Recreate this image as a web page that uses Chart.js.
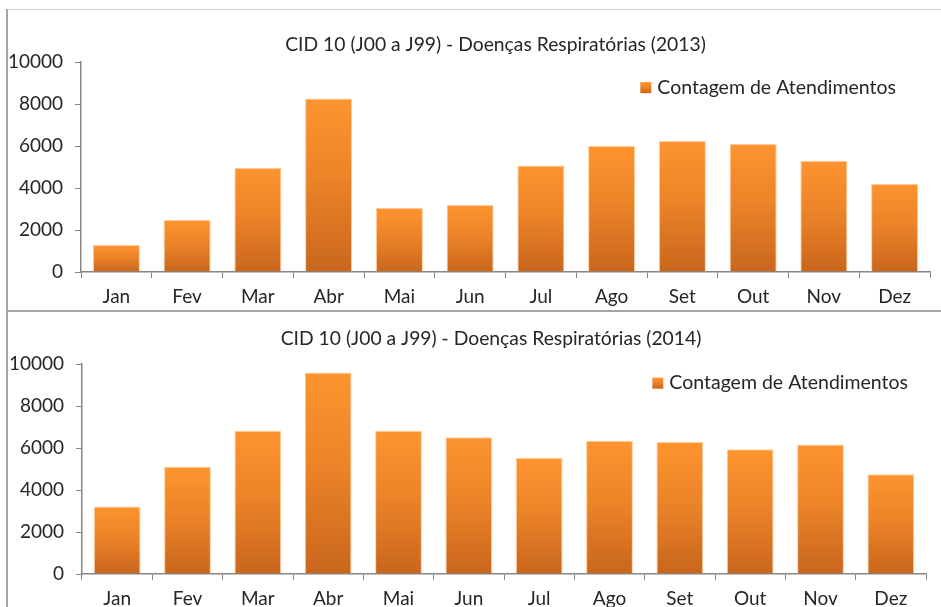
<!DOCTYPE html>
<html>
<head>
<meta charset="utf-8">
<script src="https://cdn.jsdelivr.net/npm/chart.js@4"></script>
<style>
  body { margin: 0; background: #fff; width: 941px; height: 607px; overflow: hidden; position: relative; }
  .painel { position: absolute; left: 8px; height: 300px; }
  .painel canvas { display: block; }
  .linha { position: absolute; background: #a6a6a6; }
</style>
</head>
<body>
<div class="painel" style="top:10px; width:975px"><canvas id="grafico2013" width="975" height="300"></canvas></div>
<div class="painel" style="top:312px; width:966px; height:295px; overflow:hidden"><canvas id="grafico2014" width="966" height="300"></canvas></div>
<div class="linha" style="left:6px; top:9px; width:935px; height:1px; background:#cfcfcf"></div>
<div class="linha" style="left:6px; top:9px; width:2px; height:598px"></div>
<div class="linha" style="left:6px; top:310px; width:935px; height:2px"></div>
<script>
const meses = ["Jan", "Fev", "Mar", "Abr", "Mai", "Jun", "Jul", "Ago", "Set", "Out", "Nov", "Dez"];

// 2013
const atendimentos2013 = [1290, 2480, 4960, 8270, 3060, 3190, 5080, 6010, 6240, 6100, 5300, 4190];
// 2014
const atendimentos2014 = [3220, 5110, 6830, 9600, 6830, 6520, 5540, 6350, 6290, 5940, 6170, 4750];

const rotulo = "Contagem de Atendimentos";
const fonte = "Lato, 'Open Sans', sans-serif";
const corTexto = "#262626";
const corEixo = "#868686";

function gradiente(ctx, topo, base) {
    const g = ctx.createLinearGradient(0, topo, 0, base);
    g.addColorStop(0, "#fe942f");
    g.addColorStop(0.45, "#ec8428");
    g.addColorStop(1, "#c9661d");
    return g;
}

// legenda desenhada dentro da área do gráfico (canto superior direito)
const legendaInterna = {
    id: "legendaInterna",
    afterDraw(chart, args, opts) {
        const { ctx, chartArea } = chart;
        const texto = chart.data.datasets[0].label;
        ctx.save();
        ctx.font = opts.font;
        const w = ctx.measureText(texto).width;
        const xTexto = chartArea.right - opts.direita - w;
        const y = chartArea.top + opts.topo;
        const lado = opts.lado;
        ctx.fillStyle = gradiente(ctx, y - lado / 2, y + lado / 2);
        ctx.fillRect(xTexto - 6 - lado, y - lado / 2, lado, lado);
        ctx.fillStyle = corTexto;
        ctx.textBaseline = "middle";
        ctx.textAlign = "left";
        ctx.fillText(texto, xTexto, y);
        ctx.restore();
    }
};

function criarGrafico(id, titulo, valores, cfg) {
    return new Chart(document.getElementById(id), {
        type: "bar",
        data: {
            labels: meses,
            datasets: [
                {
                    label: rotulo,
                    data: valores,
                    backgroundColor: (c) => {
                        const y = c.chart.scales.y;
                        if (c.type !== "data" || !y) return "#ec8428";
                        const topo = y.getPixelForValue(c.raw);
                        const base = y.getPixelForValue(0);
                        if (!Number.isFinite(topo) || !Number.isFinite(base) || topo === base) return "#ec8428";
                        return gradiente(c.chart.ctx, topo, base);
                    },
                    borderColor: "rgba(255, 196, 140, 0.85)",
                    borderWidth: 1,
                    categoryPercentage: 1.0,
                    barPercentage: 0.665,
                }
            ]
        },
        options: {
            responsive: false,
            animation: false,
            events: [],
            layout: { padding: 0 },
            plugins: {
                legend: { display: false },
                tooltip: { enabled: false },
                title: {
                    display: true,
                    text: titulo,
                    color: corTexto,
                    font: { family: fonte, size: 19.3, weight: "normal" },
                    padding: { top: cfg.tituloTopo, bottom: cfg.tituloBase },
                },
                legendaInterna: { font: "19.5px " + fonte, direita: cfg.legDir, topo: cfg.legTopo, lado: 11 },
            },
            scales: {
                x: {
                    afterFit: (s) => { s.height = 38; },
                    grid: {
                        display: true,
                        drawOnChartArea: false,
                        drawTicks: true,
                        tickLength: 6,
                        color: corEixo,
                        offset: true,
                    },
                    border: { display: true, color: corEixo, width: 1.5 },
                    ticks: { color: corTexto, font: { family: fonte, size: 19 }, padding: 7.5 },
                },
                y: {
                    min: 0,
                    max: 10000,
                    afterFit: (s) => { s.width = cfg.larguraY; },
                    grid: {
                        display: true,
                        drawOnChartArea: false,
                        drawTicks: true,
                        tickLength: 6,
                        color: corEixo,
                    },
                    border: { display: true, color: corEixo, width: 1.5 },
                    ticks: {
                        stepSize: 2000,
                        color: corTexto,
                        font: { family: fonte, size: 19 },
                        padding: 12,
                        callback: (v) => String(v),
                    },
                },
                // eixo vazio à direita só para reservar espaço (o título continua centrado no canvas)
                margemDireita: {
                    position: "right",
                    afterFit: (s) => { s.width = cfg.dir; },
                    grid: { display: false },
                    border: { display: false },
                    ticks: { display: false },
                }
            }
        },
        plugins: [legendaInterna]
    });
}

criarGrafico("grafico2013", "CID 10 (J00 a J99) - Doenças Respiratórias (2013)", atendimentos2013,
    { dir: 53, larguraY: 73, tituloTopo: 23.4, tituloBase: 5.6, legDir: 34, legTopo: 25.5 });
criarGrafico("grafico2014", "CID 10 (J00 a J99) - Doenças Respiratórias (2014)", atendimentos2014,
    { dir: 48, larguraY: 74, tituloTopo: 15.4, tituloBase: 13.6, legDir: 18, legTopo: 19 });
</script>
</body>
</html>
